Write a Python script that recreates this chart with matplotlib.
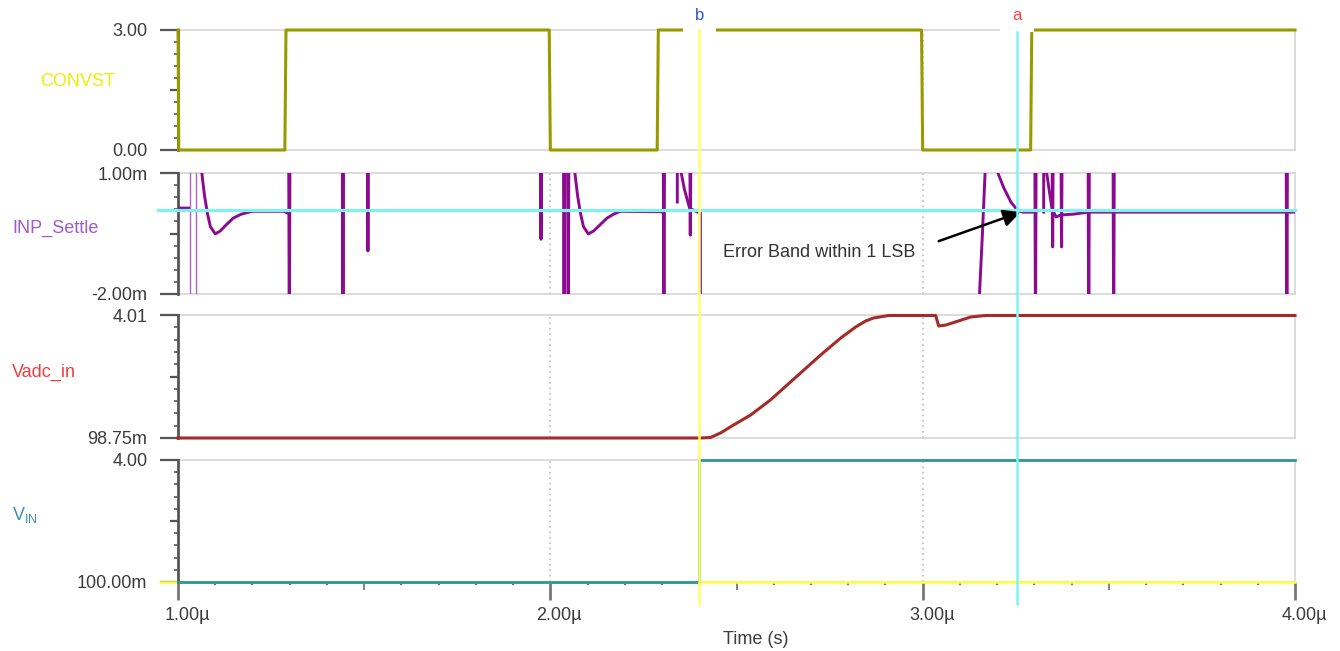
import numpy as np
import matplotlib
matplotlib.use("Agg")
import matplotlib.pyplot as plt
import matplotlib.transforms as mtransforms
from matplotlib.lines import Line2D
from matplotlib.patches import Rectangle
from matplotlib.ticker import FixedLocator

plt.rcParams['font.family'] = ['Liberation Sans', 'DejaVu Sans']
plt.rcParams['mathtext.fontset'] = 'custom'
plt.rcParams['mathtext.rm'] = 'Liberation Sans'

nan = np.nan

# time axis in microseconds
convst_t = [1.0, 1.001, 1.002, 1.287, 1.290, 1.997, 2.000, 2.287, 2.290, 2.997, 3.000, 3.290, 3.293, 4.0]
convst_v = [3.0, 1.8, 0.0, 0.0, 3.0, 3.0, 0.0, 0.0, 3.0, 3.0, 0.0, 0.0, 3.0, 3.0]

# INP_Settle in mV (base trace, NaN = off scale)
inp_t = [1.000, 1.031, nan,
         1.058, 1.064, 1.071, 1.079, 1.087, 1.100, 1.113, 1.130, 1.148, 1.170, 1.199, 1.285, 1.293, nan,
         2.060, 2.066, 2.073, 2.081, 2.089, 2.102, 2.116, 2.134, 2.152, 2.170, 2.188, 2.296, 2.301, nan,
         2.341, 2.341, 2.360, 2.374, 2.395, 2.403, 2.403, nan,
         3.150, 3.160, 3.170, nan,
         3.199, 3.202, 3.218, 3.237, 3.250, 3.262, 3.269, 3.304, nan,
         3.325, 3.325, 3.347, 3.358, 3.371, 3.406, 3.444, 4.0]
inp_v = [0.13, 0.13, nan,
         2.5, 1.0, 0.45, 0.0, -0.33, -0.51, -0.44, -0.28, -0.12, -0.02, 0.05, 0.05, 0.01, nan,
         2.5, 1.0, 0.45, 0.0, -0.33, -0.51, -0.44, -0.28, -0.12, -0.02, 0.05, 0.04, 0.03, nan,
         0.28, 1.5, 0.6, 0.13, 0.03, 0.03, -3.0, nan,
         -2.5, -0.6, 1.5, nan,
         1.5, 1.0, 0.63, 0.28, 0.13, 0.05, 0.03, 0.03, nan,
         0.03, 1.5, 0.13, -0.09, -0.04, -0.02, 0.03, 0.03]

# INP_Settle spikes: time, low, high (mV)
spike_t = [1.297, 1.441, 1.508, 1.973, 2.035, 2.046, 2.303, 2.374, 3.301, 3.347, 3.371, 3.444, 3.511, 3.976]
spike_lo = [-3, -3, -0.93, -0.64, -3, -3, -3, -0.54, -3, -0.83, -0.83, -3, -3, -3]
spike_hi = [3, 3, 3, 3, 3, 3, 3, 3, 3, 3, 3, 3, 3, 3]
thin_t = [1.032, 1.048]

vadc_t = [1.0, 2.403, 2.430, 2.457, 2.492, 2.538, 2.591, 2.672, 2.726, 2.780, 2.820, 2.847, 2.868, 2.909,
          3.035, 3.043, 3.062, 3.129, 3.169, 4.0]
vadc_v = [0.09875, 0.09875, 0.114, 0.258, 0.512, 0.83, 1.307, 2.166, 2.738, 3.279, 3.629, 3.82, 3.915, 3.995,
          3.995, 3.66, 3.69, 3.946, 3.995, 3.995]

vin_t = [1.0, 2.40, 2.40, 4.0]
vin_v = [0.1, 0.1, 4.0, 4.0]

cursor_b = 2.40
cursor_a = 3.253
settle_band = 0.08   # mV, cyan level in INP_Settle
grid_t = [2.0, 3.0]

xtick_vals = [1.0, 2.0, 3.0, 4.0]
xtick_labels = ['1.00\u00b5', '2.00\u00b5', '3.00\u00b5', '4.00\u00b5']

panels = [
    ('CONVST', 0.0, 3.0, '0.00', '3.00'),
    ('INP_Settle', -2.0, 1.0, '-2.00m', '1.00m'),
    ('Vadc_in', 0.09875, 4.01, '98.75m', '4.01'),
    ('V_IN', 0.1, 4.0, '100.00m', '4.00'),
]

W, H = 1340, 651
fig = plt.figure(figsize=(W / 100, H / 100), dpi=100)
X0, X1 = 178, 1295
rows = [(30, 150), (173, 294), (315, 438), (460, 582)]
tick_col = '#555555'
txt_col = '#3c3c3c'

axes = []
for (name, lo, hi, lo_lab, hi_lab), (y0, y1) in zip(panels, rows):
    ax = fig.add_axes([X0 / W, 1 - y1 / H, (X1 - X0) / W, (y1 - y0) / H])
    ax.set_xlim(1.0, 4.0)
    ax.set_ylim(lo, hi)
    ax.set_yticks([lo, (lo + hi) / 2, hi])
    ax.set_yticklabels([lo_lab, '', hi_lab])
    ax.yaxis.set_minor_locator(FixedLocator(np.linspace(lo, hi, 11)[1:-1]))
    ax.tick_params(axis='y', which='major', length=13, width=1.6, color=tick_col,
                   labelsize=13, labelcolor=txt_col, pad=9)
    ax.tick_params(axis='y', which='minor', length=3, width=1.2, color=tick_col)
    ax.yaxis.get_major_ticks()[1].tick1line.set_markersize(6)
    ax.tick_params(axis='x', which='both', bottom=False, labelbottom=False)
    for s in ['top', 'bottom', 'right']:
        ax.spines[s].set_color('#d6d6d6')
        ax.spines[s].set_linewidth(1.2)
        ax.spines[s].set_zorder(1)
    ax.spines['left'].set_color(tick_col)
    ax.spines['left'].set_linewidth(2)
    for g in grid_t:
        ax.axvline(g, color='#c4c4c4', ls=(0, (1, 2)), lw=1.3, zorder=0)
    axes.append(ax)

ax1, ax2, ax3, ax4 = axes

# traces
ax1.plot(convst_t, convst_v, color='#999900', lw=2.2, clip_on=False, zorder=3)

ax2.plot(inp_t, inp_v, color='#8b0a8f', lw=2.1, zorder=3)
for t, lo, hi in zip(spike_t, spike_lo, spike_hi):
    ax2.plot([t, t + 0.002, t + 0.004], [hi, lo, hi], color='#8b0a8f', lw=2.2, zorder=3)
ax2.vlines(thin_t, -3, 3, color='#b060c0', lw=1.0, zorder=3)
ax2.axhline(settle_band, xmin=-20 / (X1 - X0), xmax=1, color='#80f0f0', lw=2.3, clip_on=False, zorder=4)

ax2.annotate('', xy=(3.263, 0.03), xytext=(3.043, -0.69),
             arrowprops=dict(arrowstyle='-|>', color='black', lw=1.8, mutation_scale=26,
                             shrinkA=0, shrinkB=0), zorder=5)
ax2.text(2.465, -0.96, 'Error Band within 1 LSB', fontsize=13, color='#333333',
         ha='left', va='center')

ax3.plot(vadc_t, vadc_v, color='#a52a2a', lw=2.2, clip_on=False, zorder=3)

ax4.axhline(0.1, xmin=-18 / (X1 - X0), xmax=1, color='#ffff40', lw=1.8, clip_on=False, zorder=2)
ax4.plot(vin_t, vin_v, color='#2e9696', lw=2.0, clip_on=False, zorder=3)

# bottom time axis
ax4.set_xticks([1.0, 1.5, 2.0, 2.5, 3.0, 3.5, 4.0])
ax4.set_xticklabels([])
ax4.xaxis.set_minor_locator(FixedLocator(np.arange(1.0, 4.0001, 0.1)))
ax4.tick_params(axis='x', which='major', bottom=True, length=13, width=2, color='#777777')
ax4.tick_params(axis='x', which='minor', bottom=True, length=2.5, width=1.3, color='#555555')
for i, tk in enumerate(ax4.xaxis.get_major_ticks()):
    if i % 2 == 1:
        tk.tick1line.set_markersize(6)
        tk.tick1line.set_markeredgewidth(1.3)
for t, lab in zip(xtick_vals, xtick_labels):
    ax4.annotate(lab, xy=(t, 0), xycoords=('data', 'axes fraction'), xytext=(9, -34),
                 textcoords='offset pixels', ha='center', va='center', fontsize=13, color=txt_col,
                 annotation_clip=False)
fig.text(756 / W, 1 - 640 / H, 'Time (s)', fontsize=13, color=txt_col, ha='center', va='center')

# trace names
fig.text(40 / W, 1 - 82 / H, 'CONVST', fontsize=13, color='#eeee00', ha='left', va='center')
fig.text(12 / W, 1 - 228 / H, 'INP_Settle', fontsize=13, color='#a05ac8', ha='left', va='center')
fig.text(12 / W, 1 - 372 / H, 'Vadc_in', fontsize=13, color='#f03c3c', ha='left', va='center')
fig.text(12 / W, 1 - 515 / H, r'V$_{\mathrm{IN}}$', fontsize=13, color='#3a8fb7', ha='left', va='center')

# cursors
trans = mtransforms.blended_transform_factory(ax4.transData, fig.transFigure)
for cx, col, lab, lab_col, ytop in [(cursor_b, '#ffff66', 'b', '#3050d0', 30),
                                    (cursor_a, '#80f4f4', 'a', '#ff4040', 32)]:
    fig.add_artist(Rectangle((cx - 0.045, 1 - 31.5 / H), 0.09, 31.5 / H, transform=trans,
                             facecolor='white', edgecolor='none', zorder=4))
    fig.add_artist(Line2D([cx, cx], [1 - ytop / H, 1 - 604 / H], transform=trans,
                          color=col, lw=1.8, zorder=5))
    fig.text(cx, 1 - 16 / H, lab, transform=trans, fontsize=12, color=lab_col,
             ha='center', va='center', zorder=6)

fig.savefig('out.png', dpi=100)
